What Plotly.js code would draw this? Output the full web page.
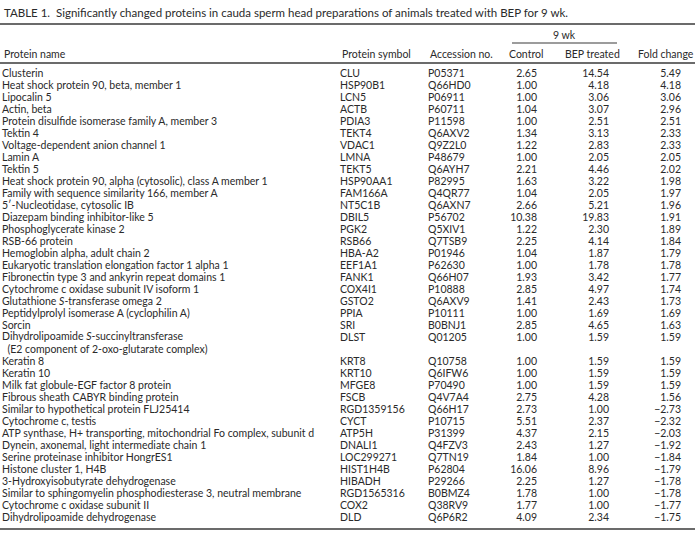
<!DOCTYPE html>
<html>
<head>
<meta charset="utf-8">
<script src="https://cdn.plot.ly/plotly-3.0.1.min.js"></script>
<style>
  html, body { margin: 0; padding: 0; background: #fff; }
  #table-chart { width: 695px; height: 533px; }
</style>
</head>
<body>
<div id="table-chart"></div>
<script>
// Table 1 data, one entry per protein row
const proteinNames = [
    "Clusterin",
    "Heat shock protein 90, beta, member 1",
    "Lipocalin 5",
    "Actin, beta",
    "Protein disulfide isomerase family A, member 3",
    "Tektin 4",
    "Voltage-dependent anion channel 1",
    "Lamin A",
    "Tektin 5",
    "Heat shock protein 90, alpha (cytosolic), class A member 1",
    "Family with sequence similarity 166, member A",
    "5\u2032-Nucleotidase, cytosolic IB",
    "Diazepam binding inhibitor-like 5",
    "Phosphoglycerate kinase 2",
    "RSB-66 protein",
    "Hemoglobin alpha, adult chain 2",
    "Eukaryotic translation elongation factor 1 alpha 1",
    "Fibronectin type 3 and ankyrin repeat domains 1",
    "Cytochrome c oxidase subunit IV isoform 1",
    "Glutathione <i>S</i>-transferase omega 2",
    "Peptidylprolyl isomerase A (cyclophilin A)",
    "Sorcin",
    "Dihydrolipoamide <i>S</i>-succinyltransferase<br>\u00a0\u00a0(E2 component of 2-oxo-glutarate complex)",
    "Keratin 8",
    "Keratin 10",
    "Milk fat globule-EGF factor 8 protein",
    "Fibrous sheath CABYR binding protein",
    "Similar to hypothetical protein FLJ25414",
    "Cytochrome c, testis",
    "ATP synthase, H+ transporting, mitochondrial Fo complex, subunit d",
    "Dynein, axonemal, light intermediate chain 1",
    "Serine proteinase inhibitor HongrES1",
    "Histone cluster 1, H4B",
    "3-Hydroxyisobutyrate dehydrogenase",
    "Similar to sphingomyelin phosphodiesterase 3, neutral membrane",
    "Cytochrome c oxidase subunit II",
    "Dihydrolipoamide dehydrogenase"
];

const proteinSymbols = [
    "CLU", "HSP90B1", "LCN5", "ACTB", "PDIA3", "TEKT4", "VDAC1", "LMNA", "TEKT5",
    "HSP90AA1", "FAM166A", "NT5C1B", "DBIL5", "PGK2", "RSB66", "HBA-A2", "EEF1A1",
    "FANK1", "COX4I1", "GSTO2", "PPIA", "SRI", "DLST", "KRT8", "KRT10", "MFGE8",
    "FSCB", "RGD1359156", "CYCT", "ATP5H", "DNALI1", "LOC299271", "HIST1H4B",
    "HIBADH", "RGD1565316", "COX2", "DLD"
];

const accessionNos = [
    "P05371", "Q66HD0", "P06911", "P60711", "P11598", "Q6AXV2", "Q9Z2L0", "P48679",
    "Q6AYH7", "P82995", "Q4QR77", "Q6AXN7", "P56702", "Q5XIV1", "Q7TSB9", "P01946",
    "P62630", "Q66H07", "P10888", "Q6AXV9", "P10111", "B0BNJ1", "Q01205", "Q10758",
    "Q6IFW6", "P70490", "Q4V7A4", "Q66H17", "P10715", "P31399", "Q4FZV3", "Q7TN19",
    "P62804", "P29266", "B0BMZ4", "Q38RV9", "Q6P6R2"
];

const controlValues = [
    2.65, 1.00, 1.00, 1.04, 1.00, 1.34, 1.22, 1.00, 2.21, 1.63, 1.04, 2.66, 10.38,
    1.22, 2.25, 1.04, 1.00, 1.93, 2.85, 1.41, 1.00, 2.85, 1.00, 1.00, 1.00, 1.00,
    2.75, 2.73, 5.51, 4.37, 2.43, 1.84, 16.06, 2.25, 1.78, 1.77, 4.09
];

const bepValues = [
    14.54, 4.18, 3.06, 3.07, 2.51, 3.13, 2.83, 2.05, 4.46, 3.22, 2.05, 5.21, 19.83,
    2.30, 4.14, 1.87, 1.78, 3.42, 4.97, 2.43, 1.69, 4.65, 1.59, 1.59, 1.59, 1.59,
    4.28, 1.00, 2.37, 2.15, 1.27, 1.00, 8.96, 1.27, 1.00, 1.00, 2.34
];

const foldChanges = [
    5.49, 4.18, 3.06, 2.96, 2.51, 2.33, 2.33, 2.05, 2.02, 1.98, 1.97, 1.96, 1.91,
    1.89, 1.84, 1.79, 1.78, 1.77, 1.74, 1.73, 1.69, 1.63, 1.59, 1.59, 1.59, 1.59,
    1.56, -2.73, -2.32, -2.03, -1.92, -1.84, -1.79, -1.78, -1.78, -1.77, -1.75
];

const headerLabels = ["Protein name", "Protein symbol", "Accession no.", "Control", "BEP treated", "Fold change"];
const groupLabel = "9 wk";
const tableTitle = "TABLE 1.\u00a0\u00a0Significantly changed proteins in cauda sperm head preparations of animals treated with BEP for 9 wk.";

// layout geometry (axes are set up to run in page pixels)
const W = 695, H = 533;
const firstRowY = 74, rowGap = 12;
const textFont = {family: "Lato, 'Liberation Sans', sans-serif", size: 10.5, color: "#2a2a2a"};
const ruleColor = "#3a3a3a";

// y of each row: rows with a wrapped name take extra lines
const lineCounts = proteinNames.map(n => n.split("<br>").length);
const rowY = [];
let lineIdx = 0;
lineCounts.forEach(c => { rowY.push(firstRowY + lineIdx * rowGap); lineIdx += c; });
const nameY = rowY.map((y, i) => y + (lineCounts[i] - 1) * rowGap / 2);

const fmt = v => (v < 0 ? "\u2212" : "") + Math.abs(v).toFixed(2);

function textColumn(x, ys, texts, pos) {
    return {
        type: "scatter",
        mode: "text",
        x: ys.map(() => x),
        y: ys,
        text: texts,
        textposition: pos,
        textfont: textFont,
        hoverinfo: "skip",
        cliponaxis: false,
        showlegend: false,
    };
}

const traces = [
    textColumn(2, nameY, proteinNames, "middle right"),
    textColumn(340, rowY, proteinSymbols, "middle right"),
    textColumn(428, rowY, accessionNos, "middle right"),
    textColumn(537, rowY, controlValues.map(fmt), "middle left"),
    textColumn(609, rowY, bepValues.map(fmt), "middle left"),
    textColumn(681, rowY, foldChanges.map(fmt), "middle left"),
];

const headerY = 54;
const headerX = [2, 340, 428, 526, 592, 665.5];
const headerAnchor = ["left", "left", "left", "center", "center", "center"];

const annotations = headerLabels.map((label, i) => ({
    text: label,
    x: headerX[i], y: headerY,
    xref: "x", yref: "y",
    xanchor: headerAnchor[i], yanchor: "middle",
    showarrow: false,
    font: textFont,
}));
annotations.push({
    text: groupLabel, x: 564.5, y: 35, xref: "x", yref: "y",
    xanchor: "center", yanchor: "middle", showarrow: false, font: textFont,
});
annotations.push({
    text: tableTitle, x: 2, y: 12, xref: "x", yref: "y",
    xanchor: "left", yanchor: "middle", showarrow: false,
    font: Object.assign({}, textFont, {size: 11.5}),
});

const rule = (x0, x1, y, w) => ({
    type: "line", xref: "x", yref: "y",
    x0: x0, x1: x1, y0: y, y1: y,
    line: {color: ruleColor, width: w},
});

const layout = {
    width: W,
    height: H,
    margin: {l: 0, r: 0, t: 0, b: 0},
    paper_bgcolor: "#ffffff",
    plot_bgcolor: "#ffffff",
    xaxis: {range: [0, W], visible: false, fixedrange: true},
    yaxis: {range: [H, 0], visible: false, fixedrange: true},
    showlegend: false,
    annotations: annotations,
    shapes: [
        rule(0, W, 24, 1.3),
        rule(512, 617, 43, 1.2),
        rule(0, W, 63, 1.3),
        rule(0, W, 529, 1.3),
    ],
};

Plotly.newPlot("table-chart", traces, layout, {staticPlot: true, displayModeBar: false});
</script>
</body>
</html>
